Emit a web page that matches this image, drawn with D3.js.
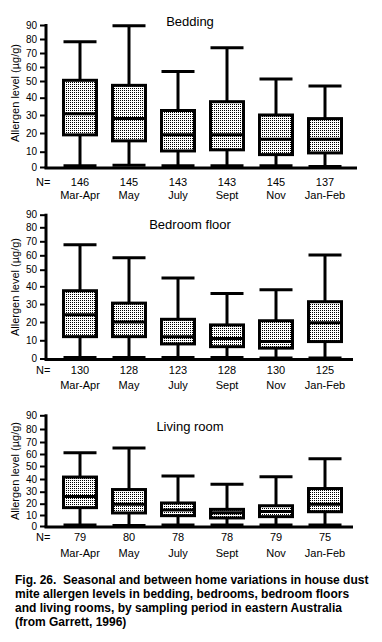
<!DOCTYPE html>
<html>
<head>
<meta charset="utf-8">
<script src="https://cdn.jsdelivr.net/npm/d3@7"></script>
<style>
html,body{margin:0;padding:0;background:#fff;}
svg{display:block;}
text{font-family:"Liberation Sans",Arial,sans-serif;fill:#000;}
</style>
</head>
<body>
<svg id="chart" width="382" height="642"></svg>
<script>
// ---- data ----
const categories = ["Mar-Apr","May","July","Sept","Nov","Jan-Feb"];
const yTicks = [0,10,20,30,40,50,60,70,80,90];

const beddingN    = [146,145,143,143,145,137];
const beddingHigh = [78, 89.5, 56.7, 73.8, 51.4, 47];
const beddingQ3   = [50.5, 47.4, 32.6, 37.7, 30, 28];
const beddingMed  = [30.7, 28, 19, 19, 16.6, 16.6];
const beddingQ1   = [19, 15.8, 10.4, 11, 8.1, 9.2];
const beddingLow  = [0.8, 1.2, 0.8, 0.8, 0.8, 0.3];

const floorN    = [130,128,123,128,130,125];
const floorHigh = [67.6, 58.3, 45, 36, 38, 60.2];
const floorQ3   = [37.5, 30.5, 21.5, 18.4, 20.7, 31.3];
const floorMed  = [24, 20, 12, 11, 9.3, 19.6];
const floorQ1   = [12, 12, 8, 6.5, 5.7, 9.3];
const floorLow  = [0.6, 0.6, 0.6, 0.6, 0.3, 0.3];

const livingN    = [79,80,78,78,79,75];
const livingHigh = [61, 65, 42.3, 35.8, 41.7, 56];
const livingQ3   = [41.5, 31.7, 20.6, 15, 18.2, 32.5];
const livingMed  = [26, 19.5, 14.5, 12, 13, 19.5];
const livingQ1   = [16.5, 11.8, 9.4, 7.3, 8.5, 12.9];
const livingLow  = [0.8, 0.5, 0.8, 0.8, 0.8, 0.8];

const yLabel = "Allergen level (\u00b5g/g)";
const captionLines = [
  "Fig. 26.  Seasonal and between home variations in house dust",
  "mite allergen levels in bedding, bedrooms, bedroom floors",
  "and living rooms, by sampling period in eastern Australia",
  "(from Garrett, 1996)"
];

// ---- layout ----
const panels = [
  {title:"Bedding", n:beddingN, hi:beddingHigh, q3:beddingQ3, med:beddingMed, q1:beddingQ1, lo:beddingLow,
   yRange:[167,151.7,133,115,97.7,81,67,53,39,25], axisEnd:357, titleY:26, labelY:93, nY:186, mY:199, showMonths:true},
  {title:"Bedroom floor", n:floorN, hi:floorHigh, q3:floorQ3, med:floorMed, q1:floorQ1, lo:floorLow,
   yRange:[358.5,340.3,322,304,286.3,269.7,255.3,241.3,227.3,214.7], axisEnd:353, titleY:229, labelY:287, nY:374, mY:389, showMonths:true},
  {title:"Living room", n:livingN, hi:livingHigh, q3:livingQ3, med:livingMed, q1:livingQ1, lo:livingLow,
   yRange:[526,515,503.7,491.7,479,466,454,442,429,415.3], axisEnd:353, titleY:431, labelY:471, nY:541, mY:557, showMonths:true}
];

const svg = d3.select("#chart");
const defs = svg.append("defs");
const pat = defs.append("pattern").attr("id","dots").attr("patternUnits","userSpaceOnUse")
  .attr("width",2).attr("height",2);
pat.append("rect").attr("width",2).attr("height",2).attr("fill","#fff");
pat.append("rect").attr("width",1).attr("height",1).attr("fill","#000");

const x = d3.scalePoint().domain(categories).range([80,325]);
const boxW = 33;
const axisX = 46;

panels.forEach(p => {
  const y = d3.scaleLinear().domain(yTicks).range(p.yRange);
  const g = svg.append("g");

  // y axis
  const yAxis = d3.axisLeft(y).tickValues(yTicks).tickSize(6).tickPadding(3).tickSizeOuter(0);
  const ya = g.append("g").attr("transform",`translate(${axisX},0)`).call(yAxis);
  ya.select(".domain").remove();
  ya.selectAll(".tick line").attr("stroke","#000").attr("stroke-width",2);
  ya.selectAll(".tick text").style("font-size","10px");
  g.append("line").attr("x1",axisX).attr("x2",axisX)
    .attr("y1",y(90)-1).attr("y2",y(0)+1.5).attr("stroke","#000").attr("stroke-width",3);
  // x axis baseline
  g.append("line").attr("x1",axisX-1.5).attr("x2",p.axisEnd)
    .attr("y1",y(0)+1).attr("y2",y(0)+1).attr("stroke","#000").attr("stroke-width",3);

  // y label
  g.append("text").attr("transform",`translate(19,${p.labelY}) rotate(-90)`)
    .attr("text-anchor","middle").style("font-size","11px").text(yLabel);

  // title
  g.append("text").attr("x",190).attr("y",p.titleY).attr("text-anchor","middle")
    .style("font-size","13px").text(p.title);

  // boxes
  categories.forEach((c,i) => {
    const cx = x(c);
    const bg = g.append("g").attr("stroke","#000").attr("stroke-width",3).attr("fill","none");
    // whisker line
    bg.append("line").attr("x1",cx).attr("x2",cx).attr("y1",y(p.hi[i])).attr("y2",y(p.lo[i]));
    // caps
    bg.append("line").attr("x1",cx-boxW/2).attr("x2",cx+boxW/2).attr("y1",y(p.hi[i])).attr("y2",y(p.hi[i]));
    bg.append("line").attr("x1",cx-boxW/2).attr("x2",cx+boxW/2).attr("y1",y(p.lo[i])).attr("y2",y(p.lo[i]));
    // box
    bg.append("rect").attr("x",cx-boxW/2).attr("width",boxW)
      .attr("y",y(p.q3[i])).attr("height",y(p.q1[i])-y(p.q3[i]))
      .attr("fill","url(#dots)");
    // median
    bg.append("line").attr("x1",cx-boxW/2).attr("x2",cx+boxW/2).attr("y1",y(p.med[i])).attr("y2",y(p.med[i]));
  });

  // N row
  g.append("text").attr("x",36).attr("y",p.nY).style("font-size","11px").text("N=");
  categories.forEach((c,i) => {
    g.append("text").attr("x",x(c)).attr("y",p.nY).attr("text-anchor","middle")
      .style("font-size","11px").text(p.n[i]);
    if (p.showMonths) {
      g.append("text").attr("x",x(c)).attr("y",p.mY).attr("text-anchor","middle")
        .style("font-size","11px").text(c);
    }
  });
});

// caption
const cap = svg.append("text").style("font-size","12px").style("font-weight","bold")
  .attr("xml:space","preserve");
captionLines.forEach((l,i) => {
  cap.append("tspan").attr("x",15).attr("y",584 + i*14).text(l);
});
</script>
</body>
</html>
